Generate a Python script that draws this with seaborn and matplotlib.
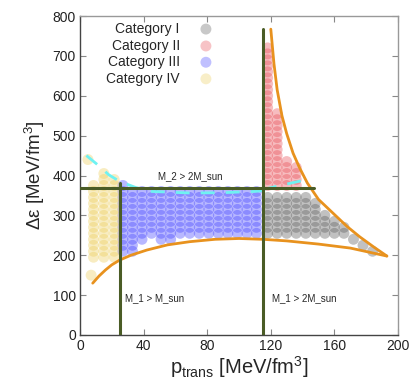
import numpy as np
import pandas as pd
import matplotlib
matplotlib.use("Agg")
import matplotlib.pyplot as plt
import seaborn as sns

# ---------------- data ----------------
categories = ["Category I", "Category II", "Category III", "Category IV"]
colors = {"Category I": "#555555", "Category II": "#e8464e",
          "Category III": "#3c3cff", "Category IV": "#eccd55"}

# grid of Δε levels used by the parameter scan (MeV/fm^3)
de_rows = [150, 165, 180, 195, 210, 225, 240, 255, 270, 285, 300, 315, 330, 345,
           360, 375, 390, 405, 420, 435, 450, 465, 480, 495, 510, 525, 540, 555,
           570, 585, 600, 615, 630, 645, 660, 675, 690, 705, 720]

# Category I (grey): column p_trans, top and bottom Δε
cat1_p = [118, 124, 130, 136, 142, 148, 154, 160, 166, 172, 178, 184]
cat1_top = [345, 345, 345, 345, 345, 330, 300, 285, 270, 240, 225, 210]
cat1_bot = [255, 255, 255, 255, 255, 255, 255, 255, 255, 240, 225, 210]

# Category II (red)
cat2_p = [118, 124, 130, 136]
cat2_top = [720, 555, 435, 420]
cat2_bot = [375, 375, 375, 375]

# Category III (blue)
cat3_p = [27, 33, 39, 45, 51, 57, 63, 69, 75, 81, 87, 93, 99, 105, 111]
cat3_top = [375, 360, 360, 360, 360, 360, 360, 360, 360, 360, 360, 360, 360, 360, 360]
cat3_bot = [210, 210, 240, 255, 240, 240, 255, 255, 255, 255, 255, 255, 255, 255, 255]

# Category IV (yellow)
cat4_p = [8.5, 15, 21.5]
cat4_top = [375, 405, 390]
cat4_bot = [195, 195, 195]
cat4_extra_p = [5, 7]
cat4_extra_de = [440, 150]

# constraint curves
upper_p = [120, 122, 124, 127, 130, 134, 138, 143, 150, 159, 168, 176, 185, 193]
upper_de = [767, 680, 615, 550, 505, 456, 420, 381, 340, 306, 272, 246, 220, 198]
lower_p = [8, 12, 16, 20, 25, 32, 42, 55, 69, 85, 100, 115, 130, 150, 170, 193]
lower_de = [130, 148, 163, 176, 188, 200, 213, 226, 234, 240, 242, 240, 236, 228, 218, 198]
cyan1_p = [4, 12, 18, 25, 35, 45, 70, 90, 110, 115]
cyan1_de = [450, 424, 402, 385, 370, 360, 356, 357, 360, 362]
cyan2_p = [115, 125, 135, 143]
cyan2_de = [365, 374, 383, 390]

# constraint lines
m1_sun_p = 25
m1_2sun_p = 115
m2_2sun_de = 368

# ---------------- build table ----------------
rows = []
def add(cat, ps, tops, bots):
    for p, t, b in zip(ps, tops, bots):
        for d in de_rows:
            if b <= d <= t:
                rows.append((cat, p, d))

add("Category I", cat1_p, cat1_top, cat1_bot)
add("Category II", cat2_p, cat2_top, cat2_bot)
add("Category III", cat3_p, cat3_top, cat3_bot)
add("Category IV", cat4_p, cat4_top, cat4_bot)
for p, d in zip(cat4_extra_p, cat4_extra_de):
    rows.append(("Category IV", p, d))
df = pd.DataFrame(rows, columns=["cat", "p", "de"])

# ---------------- plot ----------------
sns.set_theme(style="ticks")
plt.rcParams["font.family"] = ["Liberation Sans", "DejaVu Sans"]
plt.rcParams["mathtext.fontset"] = "custom"
plt.rcParams["mathtext.rm"] = "Liberation Sans"
plt.rcParams["mathtext.it"] = "Liberation Sans:italic"

fig = plt.figure(figsize=(4.15, 3.82), dpi=100)
ax = fig.add_axes([80/415, 1-335/382, 318/415, 319/382])

sns.scatterplot(data=df, x="p", y="de", hue="cat", hue_order=categories,
                palette=colors, s=62, alpha=0.36, edgecolor="none",
                legend=False, ax=ax, zorder=2)

ax.plot(upper_p, upper_de, color="#e8921e", lw=2.0, zorder=4)
ax.plot(lower_p, lower_de, color="#e8921e", lw=2.0, zorder=4)
ax.plot(cyan1_p, cyan1_de, color="#6ff2f2", lw=2.0, dashes=(5, 4), zorder=3)
ax.plot(cyan2_p, cyan2_de, color="#6ff2f2", lw=2.0, dashes=(5, 4), zorder=3)

green = "#4a5c26"
ax.plot([m1_sun_p, m1_sun_p], [0, 381], color=green, lw=2.2, zorder=5)
ax.plot([m1_2sun_p, m1_2sun_p], [0, 768], color=green, lw=2.2, zorder=5)
ax.plot([0, 147], [m2_2sun_de, m2_2sun_de], color=green, lw=2.2, zorder=5)

ax.text(69.5, 398, "M_2 > 2M_sun", fontsize=7, ha="center", va="center")
ax.text(28.5, 93, "M_1 > M_sun", fontsize=7, ha="left", va="center")
ax.text(121, 93, "M_1 > 2M_sun", fontsize=7, ha="left", va="center")

# legend (text right-aligned, marker to the right)
leg_y = [0.959, 0.906, 0.855, 0.803]
for cat, yy in zip(categories, leg_y):
    ax.text(0.314, yy, cat, transform=ax.transAxes, ha="right", va="center",
            fontsize=10)
    ax.scatter([0.396], [yy], transform=ax.transAxes, s=62, color=colors[cat],
               alpha=0.32, edgecolor="none", clip_on=False)

ax.set_xlim(0, 200)
ax.set_ylim(0, 800)
ax.set_xticks([0, 40, 80, 120, 160, 200])
ax.set_yticks(range(0, 801, 100))
ax.tick_params(direction="in", length=4, width=0.8, top=True, right=True,
               labelsize=10, colors="#222222", pad=3)
ax.tick_params(axis="both", which="both", color="#888888")
for side in ["top", "right"]:
    ax.spines[side].set_color("#999999")
for side in ["left", "bottom"]:
    ax.spines[side].set_color("#444444")
for sp in ax.spines.values():
    sp.set_linewidth(1.0)

ax.set_xlabel(r"p$_{\rm trans}$ [MeV/fm$^3$]", fontsize=14.5, labelpad=1)
ax.set_ylabel(r"Δε [MeV/fm$^3$]", fontsize=13.5, labelpad=4)

fig.savefig("out.png", dpi=100)
